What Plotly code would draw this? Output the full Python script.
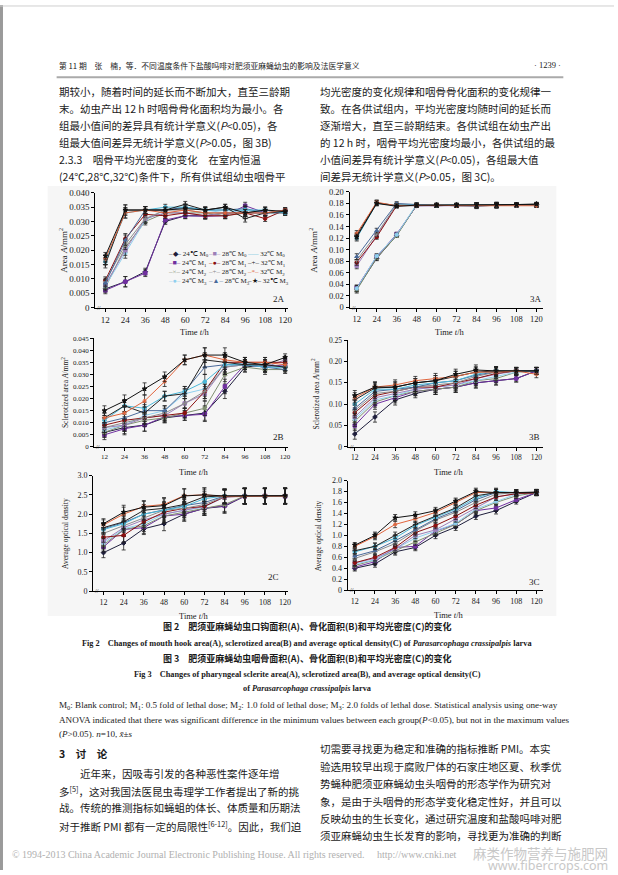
import plotly.graph_objects as go

W, H = 618, 875

# ---------------- data ----------------
times = [12, 24, 36, 48, 60, 72, 84, 96, 108, 120]
x_tick_labels = ["12", "24", "36", "48", "60", "72", "84", "96", "108", "120"]

series_names = ["24℃ M<sub>0</sub>", "24℃ M<sub>1</sub>", "24℃ M<sub>2</sub>", "24℃ M<sub>3</sub>",
                "28℃ M<sub>0</sub>", "28℃ M<sub>1</sub>", "28℃ M<sub>2</sub>", "28℃ M<sub>3</sub>",
                "32℃ M<sub>0</sub>", "32℃ M<sub>1</sub>", "32℃ M<sub>2</sub>", "32℃ M<sub>3</sub>"]

# Fig 2A mouth hook area (mm^2), rows in series_names order
hook_area = [
    [0.0065, 0.0090, 0.0125, 0.0300, 0.0320, 0.0320, 0.0330, 0.0330, 0.0330, 0.0335],
    [0.0060, 0.0090, 0.0120, 0.0305, 0.0320, 0.0318, 0.0320, 0.0355, 0.0330, 0.0335],
    [0.0070, 0.0210, 0.0300, 0.0330, 0.0330, 0.0330, 0.0320, 0.0330, 0.0330, 0.0330],
    [0.0075, 0.0190, 0.0305, 0.0340, 0.0350, 0.0340, 0.0330, 0.0340, 0.0330, 0.0335],
    [0.0080, 0.0200, 0.0310, 0.0330, 0.0330, 0.0320, 0.0330, 0.0330, 0.0330, 0.0340],
    [0.0095, 0.0240, 0.0325, 0.0320, 0.0330, 0.0320, 0.0320, 0.0330, 0.0310, 0.0340],
    [0.0090, 0.0220, 0.0310, 0.0340, 0.0340, 0.0330, 0.0330, 0.0330, 0.0340, 0.0330],
    [0.0085, 0.0235, 0.0340, 0.0340, 0.0350, 0.0340, 0.0340, 0.0345, 0.0330, 0.0330],
    [0.0160, 0.0330, 0.0340, 0.0350, 0.0350, 0.0340, 0.0340, 0.0340, 0.0340, 0.0330],
    [0.0150, 0.0340, 0.0340, 0.0340, 0.0360, 0.0340, 0.0350, 0.0310, 0.0330, 0.0335],
    [0.0170, 0.0330, 0.0340, 0.0330, 0.0340, 0.0330, 0.0330, 0.0330, 0.0330, 0.0340],
    [0.0180, 0.0340, 0.0340, 0.0340, 0.0345, 0.0340, 0.0350, 0.0330, 0.0340, 0.0335],
]
hook_area_err = [0.0012, 0.0018, 0.0012, 0.0010, 0.0010, 0.0010, 0.0010, 0.0012, 0.0010, 0.0008]

# Fig 3A pharyngeal sclerite area
phar_area = [
    [0.032, 0.085, 0.125, 0.177, 0.177, 0.177, 0.176, 0.177, 0.178, 0.178],
    [0.034, 0.088, 0.127, 0.176, 0.176, 0.176, 0.177, 0.176, 0.177, 0.177],
    [0.030, 0.086, 0.124, 0.177, 0.177, 0.177, 0.177, 0.177, 0.177, 0.177],
    [0.033, 0.089, 0.126, 0.178, 0.176, 0.177, 0.176, 0.178, 0.178, 0.176],
    [0.072, 0.124, 0.177, 0.176, 0.177, 0.176, 0.177, 0.177, 0.177, 0.177],
    [0.078, 0.122, 0.176, 0.177, 0.176, 0.177, 0.176, 0.176, 0.177, 0.178],
    [0.082, 0.127, 0.178, 0.177, 0.177, 0.177, 0.177, 0.177, 0.178, 0.177],
    [0.088, 0.133, 0.180, 0.178, 0.177, 0.176, 0.175, 0.177, 0.177, 0.178],
    [0.120, 0.180, 0.177, 0.177, 0.176, 0.177, 0.177, 0.176, 0.177, 0.177],
    [0.125, 0.181, 0.176, 0.176, 0.177, 0.177, 0.177, 0.177, 0.178, 0.178],
    [0.128, 0.182, 0.176, 0.177, 0.177, 0.176, 0.176, 0.177, 0.177, 0.176],
    [0.122, 0.180, 0.175, 0.177, 0.177, 0.177, 0.177, 0.178, 0.178, 0.179],
]
phar_area_err = [0.005, 0.004, 0.003, 0.003, 0.003, 0.003, 0.004, 0.004, 0.003, 0.003]

# Fig 2B mouth hook sclerotized area
hook_scl = [
    [0.0060, 0.0080, 0.0090, 0.0120, 0.0130, 0.0140, 0.0230, 0.0330, 0.0340, 0.0330],
    [0.0050, 0.0075, 0.0090, 0.0125, 0.0130, 0.0135, 0.0250, 0.0340, 0.0330, 0.0340],
    [0.0060, 0.0090, 0.0110, 0.0120, 0.0140, 0.0160, 0.0300, 0.0330, 0.0320, 0.0320],
    [0.0070, 0.0090, 0.0130, 0.0150, 0.0220, 0.0240, 0.0330, 0.0350, 0.0330, 0.0330],
    [0.0080, 0.0090, 0.0120, 0.0130, 0.0180, 0.0220, 0.0330, 0.0340, 0.0330, 0.0360],
    [0.0090, 0.0110, 0.0120, 0.0130, 0.0140, 0.0230, 0.0350, 0.0350, 0.0350, 0.0350],
    [0.0080, 0.0100, 0.0120, 0.0140, 0.0180, 0.0230, 0.0330, 0.0340, 0.0340, 0.0330],
    [0.0100, 0.0120, 0.0150, 0.0150, 0.0230, 0.0330, 0.0340, 0.0340, 0.0330, 0.0320],
    [0.0110, 0.0170, 0.0160, 0.0210, 0.0230, 0.0270, 0.0340, 0.0340, 0.0330, 0.0330],
    [0.0120, 0.0170, 0.0140, 0.0210, 0.0220, 0.0360, 0.0350, 0.0340, 0.0340, 0.0330],
    [0.0120, 0.0140, 0.0190, 0.0270, 0.0360, 0.0380, 0.0360, 0.0350, 0.0350, 0.0340],
    [0.0150, 0.0190, 0.0240, 0.0290, 0.0360, 0.0380, 0.0380, 0.0350, 0.0340, 0.0370],
]
hook_scl_err = [0.0020, 0.0025, 0.0025, 0.0020, 0.0020, 0.0030, 0.0030, 0.0020, 0.0020, 0.0015]

# Fig 3B pharyngeal sclerotized area
phar_scl = [
    [0.030, 0.070, 0.110, 0.125, 0.135, 0.140, 0.150, 0.155, 0.160, 0.178],
    [0.050, 0.100, 0.115, 0.130, 0.135, 0.140, 0.150, 0.155, 0.160, 0.178],
    [0.060, 0.105, 0.120, 0.130, 0.135, 0.140, 0.155, 0.160, 0.175, 0.178],
    [0.065, 0.110, 0.120, 0.135, 0.140, 0.145, 0.155, 0.165, 0.175, 0.178],
    [0.070, 0.115, 0.125, 0.135, 0.140, 0.145, 0.160, 0.170, 0.178, 0.178],
    [0.080, 0.120, 0.130, 0.140, 0.140, 0.150, 0.160, 0.172, 0.178, 0.178],
    [0.085, 0.125, 0.130, 0.140, 0.145, 0.150, 0.165, 0.175, 0.177, 0.177],
    [0.090, 0.130, 0.135, 0.140, 0.150, 0.155, 0.168, 0.176, 0.178, 0.178],
    [0.100, 0.135, 0.135, 0.145, 0.150, 0.155, 0.170, 0.178, 0.178, 0.178],
    [0.110, 0.138, 0.140, 0.150, 0.155, 0.165, 0.175, 0.178, 0.178, 0.178],
    [0.115, 0.140, 0.145, 0.155, 0.160, 0.165, 0.175, 0.175, 0.178, 0.170],
    [0.120, 0.140, 0.140, 0.150, 0.155, 0.170, 0.180, 0.178, 0.178, 0.178],
]
phar_scl_err = [0.012, 0.012, 0.012, 0.010, 0.012, 0.012, 0.012, 0.010, 0.008, 0.008]

# Fig 2C mouth hook average optical density
hook_od = [
    [1.00, 1.25, 1.62, 1.75, 2.00, 2.15, 2.20, 2.47, 2.47, 2.47],
    [1.15, 1.60, 1.65, 1.95, 2.00, 2.15, 2.22, 2.46, 2.47, 2.46],
    [1.20, 1.60, 1.70, 1.95, 2.05, 2.15, 2.25, 2.47, 2.46, 2.47],
    [1.25, 1.62, 1.75, 2.00, 2.10, 2.18, 2.45, 2.47, 2.47, 2.47],
    [1.30, 1.65, 1.85, 2.00, 2.10, 2.20, 2.44, 2.47, 2.47, 2.47],
    [1.40, 1.45, 1.80, 2.05, 2.15, 2.20, 2.45, 2.46, 2.47, 2.47],
    [1.50, 1.70, 1.90, 2.10, 2.15, 2.25, 2.45, 2.47, 2.47, 2.46],
    [1.62, 1.78, 2.00, 2.12, 2.22, 2.30, 2.47, 2.47, 2.46, 2.47],
    [1.60, 1.75, 2.00, 2.10, 2.20, 2.40, 2.47, 2.47, 2.47, 2.47],
    [1.65, 1.80, 2.10, 2.15, 2.25, 2.45, 2.47, 2.47, 2.47, 2.47],
    [1.72, 2.00, 2.20, 2.25, 2.48, 2.50, 2.46, 2.46, 2.47, 2.47],
    [1.75, 2.05, 2.18, 2.22, 2.47, 2.50, 2.47, 2.47, 2.47, 2.48],
]
hook_od_err = [0.13, 0.18, 0.15, 0.18, 0.18, 0.18, 0.18, 0.20, 0.20, 0.20]

# Fig 3C pharyngeal average optical density
phar_od = [
    [0.40, 0.48, 0.70, 0.78, 1.00, 1.15, 1.35, 1.45, 1.62, 1.78],
    [0.42, 0.52, 0.78, 0.80, 1.08, 1.20, 1.45, 1.50, 1.65, 1.78],
    [0.45, 0.55, 0.72, 0.88, 1.05, 1.20, 1.45, 1.60, 1.72, 1.78],
    [0.48, 0.55, 0.75, 0.95, 1.08, 1.22, 1.48, 1.62, 1.75, 1.78],
    [0.50, 0.58, 0.75, 1.00, 1.10, 1.30, 1.50, 1.70, 1.76, 1.78],
    [0.50, 0.60, 0.78, 1.05, 1.18, 1.35, 1.55, 1.70, 1.76, 1.77],
    [0.58, 0.70, 0.85, 1.08, 1.28, 1.42, 1.60, 1.75, 1.78, 1.78],
    [0.62, 0.72, 0.90, 1.10, 1.30, 1.45, 1.65, 1.78, 1.78, 1.78],
    [0.70, 0.80, 0.95, 1.18, 1.33, 1.48, 1.68, 1.80, 1.78, 1.78],
    [0.72, 0.80, 1.00, 1.20, 1.35, 1.50, 1.72, 1.78, 1.78, 1.79],
    [0.80, 0.98, 1.20, 1.30, 1.42, 1.60, 1.78, 1.78, 1.78, 1.78],
    [0.82, 1.00, 1.32, 1.37, 1.45, 1.62, 1.80, 1.78, 1.78, 1.78],
]
phar_od_err = [0.05, 0.06, 0.06, 0.06, 0.06, 0.06, 0.06, 0.06, 0.05, 0.05]

y_ticks_2A = [0, 0.005, 0.010, 0.015, 0.020, 0.025, 0.030, 0.035, 0.040]
y_labels_2A = ["0", "0.005", "0.010", "0.015", "0.020", "0.025", "0.030", "0.035", "0.040"]
y_ticks_3A = [0, 0.02, 0.04, 0.06, 0.08, 0.10, 0.12, 0.14, 0.16, 0.18, 0.20]
y_labels_3A = ["0", "0.02", "0.04", "0.06", "0.08", "0.10", "0.12", "0.14", "0.16", "0.18", "0.20"]
y_ticks_2B = [0, 0.005, 0.010, 0.015, 0.020, 0.025, 0.030, 0.035, 0.040, 0.045]
y_labels_2B = ["0", "0.005", "0.010", "0.015", "0.020", "0.025", "0.030", "0.035", "0.040", "0.045"]
y_ticks_3B = [0, 0.05, 0.10, 0.15, 0.20, 0.25]
y_labels_3B = ["0", "0.05", "0.10", "0.15", "0.20", "0.25"]
y_ticks_2C = [0, 0.5, 1.0, 1.5, 2.0, 2.5, 3.0]
y_labels_2C = ["0", "0.5", "1.0", "1.5", "2.0", "2.5", "3.0"]
y_ticks_3C = [0, 0.2, 0.4, 0.6, 0.8, 1.0, 1.2, 1.4, 1.6, 1.8, 2.0]
y_labels_3C = ["0", "0.2", "0.4", "0.6", "0.8", "1.0", "1.2", "1.4", "1.6", "1.8", "2.0"]

# ---------------- styles ----------------
colors = ["#1e1e3c", "#7030a0", "#7f8f70", "#8fcfee", "#9c7fb8", "#8b1010",
          "#8c8c8c", "#4a6a9a", "#4cb8d8", "#222222", "#e0643c", "#111111"]
symbols = ["diamond", "square", "x", "circle", "square", "circle",
           "cross-thin-open", "triangle-up", "circle", "cross-thin-open", "asterisk-open", "star"]
glyphs = ["◆", "■", "×", "●", "■", "●", "+", "▲", "–", "+", "*", "★"]

SERIF = "Liberation Serif, Times New Roman, serif"
CJK = "Noto Sans CJK SC"


def px_x(p):
    return p / W


def px_y(p):
    return 1 - p / H


# panels: data, err, yticks, ylabels, x-dom px, y-dom px (top,bottom), xrange,
#         y title, y title x, y title size, tick font size, tag, tag pos
panels = [
    (hook_area, hook_area_err, y_ticks_2A, y_labels_2A, (96, 290), (190, 306), (6.0, 121.8),
     "Area <i>A</i>/mm<sup>2</sup>", 64, 9, 9, "2A", (281, 297)),
    (phar_area, phar_area_err, y_ticks_3A, y_labels_3A, (352, 547), (189, 306), (7.8, 124.2),
     "Area <i>A</i>/mm<sup>2</sup>", 315, 9, 8.5, "3A", (539, 297)),
    (hook_scl, hook_scl_err, y_ticks_2B, y_labels_2B, (95, 290), (337, 447), (6.0, 121.8),
     "Sclerotized area <i>A</i>/mm<sup>2</sup>", 65, 7.5, 7, "2B", (280, 437)),
    (phar_scl, phar_scl_err, y_ticks_3B, y_labels_3B, (350, 547), (339, 447), (7.8, 124.2),
     "Sclerotized area <i>A</i>/mm<sup>2</sup>", 317, 7.5, 7.5, "3B", (538, 437)),
    (hook_od, hook_od_err, y_ticks_2C, y_labels_2C, (94, 290), (476, 593), (6.0, 121.8),
     "Average optical density", 66, 7.5, 8, "2C", (275, 579)),
    (phar_od, phar_od_err, y_ticks_3C, y_labels_3C, (350, 547), (481, 592), (7.8, 124.2),
     "Average optical density", 320, 7.5, 8, "3C", (538, 584)),
]

fig = go.Figure()
layout = dict(
    width=W, height=H, margin=dict(l=0, r=0, t=0, b=0),
    paper_bgcolor="white", plot_bgcolor="rgba(0,0,0,0)",
    showlegend=False, font=dict(family=SERIF, color="#222"),
)
annotations = []
shapes = []

# figure background area (scanned figure block)
shapes.append(dict(type="rect", xref="paper", yref="paper",
                   x0=px_x(48), x1=px_x(560), y0=px_y(618), y1=px_y(183),
                   fillcolor="#f6f6f6", line=dict(width=0), layer="below"))

for i, (data, err, yt, yl, xd, yd, xr, ytitle, ytx, ytsize, tfs, tag, tagpos) in enumerate(panels):
    k = "" if i == 0 else str(i + 1)
    xa, ya = "x" + k, "y" + k
    for j, row in enumerate(data):
        fig.add_trace(go.Scatter(
            x=times, y=row, xaxis=xa, yaxis=ya, mode="lines+markers",
            name=series_names[j],
            line=dict(color=colors[j], width=1),
            marker=dict(symbol=symbols[j], size=3.5, color=colors[j],
                        line=dict(color=colors[j], width=1)),
            error_y=dict(type="data", array=err, visible=True, color="#222",
                         thickness=0.8, width=2),
            hoverinfo="skip",
        ))
    axis_common = dict(showline=True, linecolor="black", linewidth=1.4, ticks="outside",
                       ticklen=3, tickwidth=1, tickcolor="black", showgrid=False,
                       zeroline=False, tickfont=dict(family=SERIF, size=tfs, color="#222"))
    layout["xaxis" + k] = dict(domain=[px_x(xd[0]), px_x(xd[1])], range=list(xr), anchor=ya,
                               tickvals=times, ticktext=x_tick_labels, **axis_common)
    layout["yaxis" + k] = dict(domain=[px_y(yd[1]), px_y(yd[0])], range=[yt[0], yt[-1]], anchor=xa,
                               tickvals=yt, ticktext=yl, **axis_common)
    # x title
    annotations.append(dict(xref="paper", yref="paper", x=px_x((xd[0] + xd[1]) / 2 + 3),
                            y=px_y(yd[1] + 25), text="Time <i>t</i>/h", showarrow=False,
                            font=dict(family=SERIF, size=8.5, color="#222"),
                            xanchor="center", yanchor="middle"))
    # y title
    annotations.append(dict(xref="paper", yref="paper", x=px_x(ytx), y=px_y((yd[0] + yd[1]) / 2),
                            text=ytitle, showarrow=False, textangle=-90,
                            font=dict(family=SERIF, size=ytsize, color="#222"),
                            xanchor="center", yanchor="middle"))
    # panel tag
    annotations.append(dict(xref="paper", yref="paper", x=px_x(tagpos[0]), y=px_y(tagpos[1]),
                            text=tag, showarrow=False, font=dict(family=SERIF, size=9, color="#222"),
                            xanchor="center", yanchor="middle"))
    # axis break mark
    annotations.append(dict(xref="paper", yref="paper", x=px_x(xd[0] + 4), y=px_y(yd[1]),
                            text="//", showarrow=False, font=dict(family=SERIF, size=6, color="#111"),
                            xanchor="center", yanchor="middle"))

# legend drawn in 2A (3 columns by temperature)
for c in range(3):
    lines = []
    for r in range(4):
        j = c * 4 + r
        lines.append('<span style="color:%s">–%s–</span> %s' % (colors[j], glyphs[j], series_names[j]))
    annotations.append(dict(xref="paper", yref="paper", x=px_x(167 + c * 40), y=px_y(266),
                            text="<br>".join(lines), showarrow=False, align="left",
                            font=dict(family=SERIF, size=7, color="#222"),
                            xanchor="left", yanchor="middle"))


def T(x, y, text, size=10.5, family=CJK, anchor="left", color="#1a1a1a"):
    annotations.append(dict(xref="paper", yref="paper", x=px_x(x), y=px_y(y), text=text,
                            showarrow=False, xanchor=anchor, yanchor="middle", align=anchor,
                            font=dict(family=family, size=size, color=color)))


# header
T(57, 61, "第 11 期　张　楠，等．不同温度条件下盐酸吗啡对肥须亚麻蝇幼虫的影响及法医学意义", 7.8)
T(567, 61, "· 1239 ·", 8.5, SERIF, "right")
shapes.append(dict(type="line", xref="paper", yref="paper", x0=px_x(57), x1=px_x(567),
                   y0=px_y(73), y1=px_y(73), line=dict(color="#aaaaaa", width=2)))

left_top = [
    "期较小，随着时间的延长而不断加大，直至三龄期",
    "末。幼虫产出 12 h 时咽骨骨化面积均为最小。各",
    "组最小值间的差异具有统计学意义(<i>P</i>&lt;0.05)，各",
    "组最大值间差异无统计学意义(<i>P</i>&gt;0.05，图 3B)",
    "2.3.3　咽骨平均光密度的变化　在室内恒温",
    "(24℃,28℃,32℃)条件下，所有供试组幼虫咽骨平",
]
right_top = [
    "均光密度的变化规律和咽骨骨化面积的变化规律一",
    "致。在各供试组内，平均光密度均随时间的延长而",
    "逐渐增大，直至三龄期结束。各供试组在幼虫产出",
    "的 12 h 时，咽骨平均光密度均最小，各供试组的最",
    "小值间差异有统计学意义(<i>P</i>&lt;0.05)，各组最大值",
    "间差异无统计学意义(<i>P</i>&gt;0.05，图 3C)。",
]
top_y = [88, 105, 122, 139, 156, 173]
for t, y in zip(left_top, top_y):
    T(57, y, t)
for t, y in zip(right_top, top_y):
    T(320, y, t)

# captions
T(309, 629, "<b>图 2　肥须亚麻蝇幼虫口钩面积(A)、骨化面积(B)和平均光密度(C)的变化</b>", 9, CJK, "center")
T(309, 646, "<b>Fig 2　Changes of mouth hook area(A), sclerotized area(B) and average optical density(C) of "
            "<i>Parasarcophaga crassipalpis</i> larva</b>", 8.3, SERIF, "center")
T(309, 661, "<b>图 3　肥须亚麻蝇幼虫咽骨面积(A)、骨化面积(B)和平均光密度(C)的变化</b>", 9, CJK, "center")
T(309, 677, "<b>Fig 3　Changes of pharyngeal sclerite area(A), sclerotized area(B), and average optical density(C)</b>",
  8.3, SERIF, "center")
T(309, 691, "<b>of <i>Parasarcophaga crassipalpis</i> larva</b>", 8.3, SERIF, "center")

foot = [
    "M<sub>0</sub>: Blank control; M<sub>1</sub>: 0.5 fold of lethal dose; M<sub>2</sub>: 1.0 fold of lethal dose; "
    "M<sub>3</sub>: 2.0 folds of lethal dose. Statistical analysis using one-way",
    "ANOVA indicated that there was significant difference in the minimum values between each group(<i>P</i>&lt;0.05), "
    "but not in the maximum values",
    "(<i>P</i>&gt;0.05). <i>n</i>=10, <i>x̄</i>±<i>s</i>",
]
for t, y in zip(foot, [709, 723, 737]):
    T(57, y, t, 9.1, SERIF)

# section 3
T(57, 757, "<b>3　讨　论</b>", 10.5)
left_bottom = [
    "　　近年来，因吸毒引发的各种恶性案件逐年增",
    "多<sup>[5]</sup>，这对我国法医昆虫毒理学工作者提出了新的挑",
    "战。传统的推测指标如蝇蛆的体长、体质量和历期法",
    "对于推断 PMI 都有一定的局限性<sup>[6-12]</sup>。因此，我们迫",
]
for t, y in zip(left_bottom, [777, 795, 812, 830]):
    T(57, y, t)
right_bottom = [
    "切需要寻找更为稳定和准确的指标推断 PMI。本实",
    "验选用较早出现于腐败尸体的石家庄地区夏、秋季优",
    "势蝇种肥须亚麻蝇幼虫头咽骨的形态学作为研究对",
    "象，是由于头咽骨的形态学变化稳定性好，并且可以",
    "反映幼虫的生长变化，通过研究温度和盐酸吗啡对肥",
    "须亚麻蝇幼虫生长发育的影响，寻找更为准确的判断",
]
for t, y in zip(right_bottom, [752, 770, 788, 806, 823, 840]):
    T(320, y, t)

# footer
T(10, 859, "© 1994-2013 China Academic Journal Electronic Publishing House. All rights reserved.　 http://www.cnki.net",
  10, SERIF, "left", "#b0b0b0")
T(614, 858, "麻类作物营养与施肥网", 13.5, CJK, "right", "#c8c8c8")
T(614, 870, "www.fibercrops.com", 12.5, "Noto Sans", "right", "#c8c8c8")

# page border
shapes.append(dict(type="line", xref="paper", yref="paper", x0=px_x(1.5), x1=px_x(1.5),
                   y0=0, y1=1, line=dict(color="#9a9a9a", width=3)))
shapes.append(dict(type="line", xref="paper", yref="paper", x0=0, x1=1,
                   y0=px_y(1), y1=px_y(1), line=dict(color="#cfcfcf", width=1)))

layout["annotations"] = annotations
layout["shapes"] = shapes
fig.update_layout(**layout)
fig.write_html("out.html", config={"displayModeBar": False},
               post_script="document.body.style.margin='0';")
